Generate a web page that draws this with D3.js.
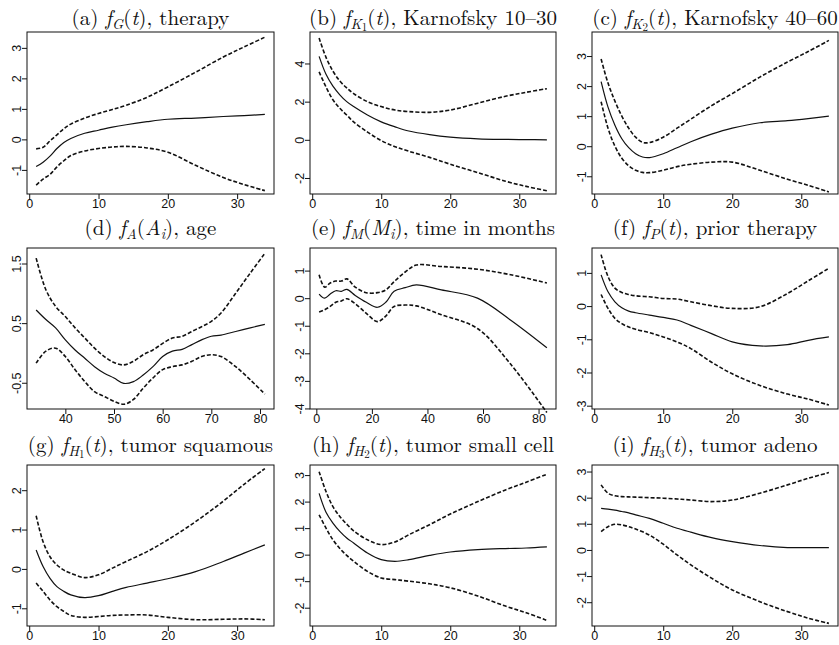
<!DOCTYPE html>
<html>
<head>
<meta charset="utf-8">
<script src="https://cdn.jsdelivr.net/npm/d3@7"></script>
<style>
  body { margin: 0; background: #fff; }
  svg { display: block; }
</style>
</head>
<body>
<div id="chart"></div>
<script>
// x grids
var tGrid = [1,2,3,4,5,6,8,10,12,14,17,20,24,28,31,34];
var tGridC = [1,2,3,4,5,6,7,8,10,12,14,17,20,24,28,31,34];
var ageGrid = [34,36,38,40,42,44,46,48,50,52,54,56,58,60,62,64,66,68,70,72,75,78,81];
var monthGrid = [1,3,5,7,9,11,14,18,22,25,28,32,36,45,58,70,83];

// (a) therapy
var estA = [-0.89,-0.75,-0.55,-0.3,-0.1,0.03,0.2,0.3,0.4,0.48,0.58,0.66,0.7,0.75,0.78,0.82];
var loA  = [-1.5,-1.3,-1.15,-0.9,-0.7,-0.53,-0.38,-0.3,-0.25,-0.23,-0.28,-0.42,-0.85,-1.25,-1.48,-1.68];
var hiA  = [-0.31,-0.26,-0.05,0.15,0.35,0.5,0.7,0.85,0.98,1.12,1.38,1.72,2.2,2.7,3.03,3.35];
// (b) Karnofsky 10-30
var estB = [4.37,3.43,2.81,2.36,2.0,1.74,1.3,0.94,0.68,0.46,0.27,0.14,0.05,0.02,0.01,0.0];
var loB  = [3.56,2.77,2.1,1.65,1.3,0.94,0.41,-0.04,-0.36,-0.6,-0.92,-1.28,-1.72,-2.17,-2.44,-2.67];
var hiB  = [5.33,4.32,3.6,3.08,2.72,2.42,2.0,1.74,1.56,1.48,1.44,1.56,1.92,2.28,2.49,2.68];
// (c) Karnofsky 40-60
var estC = [2.15,1.3,0.7,0.25,-0.05,-0.25,-0.36,-0.38,-0.25,-0.05,0.15,0.4,0.6,0.78,0.85,0.92,1.0];
var loC  = [1.48,0.6,0.0,-0.4,-0.65,-0.8,-0.87,-0.88,-0.8,-0.68,-0.6,-0.53,-0.53,-0.8,-1.1,-1.3,-1.52];
var hiC  = [2.9,2.1,1.5,1.0,0.6,0.3,0.13,0.12,0.3,0.6,0.9,1.35,1.75,2.3,2.8,3.15,3.52];
// (d) age
var estD = [0.72,0.56,0.42,0.22,0.05,-0.09,-0.23,-0.34,-0.42,-0.51,-0.48,-0.37,-0.23,-0.06,0.03,0.06,0.14,0.22,0.28,0.3,0.36,0.42,0.48];
var loD  = [-0.17,0.03,0.08,-0.06,-0.28,-0.48,-0.65,-0.73,-0.81,-0.86,-0.78,-0.59,-0.42,-0.28,-0.23,-0.2,-0.14,-0.06,-0.03,-0.06,-0.23,-0.45,-0.69];
var hiD  = [1.59,1.06,0.78,0.61,0.42,0.25,0.08,-0.06,-0.16,-0.2,-0.14,-0.03,0.05,0.16,0.25,0.28,0.36,0.44,0.53,0.67,1.0,1.34,1.67];
// (e) time in months
var estE = [0.15,0.0,0.15,0.27,0.25,0.32,0.1,-0.15,-0.33,-0.15,0.25,0.38,0.48,0.3,0.0,-0.8,-1.8];
var loE  = [-0.5,-0.42,-0.3,-0.15,-0.1,-0.02,-0.2,-0.55,-0.85,-0.65,-0.3,-0.25,-0.28,-0.6,-1.1,-2.4,-4.15];
var hiE  = [0.85,0.4,0.55,0.62,0.62,0.7,0.4,0.2,0.2,0.3,0.6,0.95,1.2,1.15,1.05,0.85,0.55];
// (f) prior therapy
var estF = [0.94,0.43,0.13,-0.05,-0.15,-0.2,-0.27,-0.34,-0.42,-0.58,-0.83,-1.08,-1.2,-1.16,-1.03,-0.93];
var loF  = [0.35,-0.07,-0.37,-0.53,-0.63,-0.7,-0.8,-0.93,-1.08,-1.28,-1.69,-2.04,-2.39,-2.65,-2.8,-2.98];
var hiF  = [1.55,0.89,0.54,0.41,0.35,0.31,0.28,0.23,0.21,0.13,0.01,-0.07,-0.02,0.38,0.76,1.14];
// (g) tumor squamous
var estG = [0.48,0.06,-0.24,-0.45,-0.57,-0.66,-0.73,-0.68,-0.57,-0.47,-0.36,-0.25,-0.07,0.19,0.4,0.61];
var loG  = [-0.36,-0.57,-0.79,-0.96,-1.08,-1.18,-1.23,-1.21,-1.18,-1.17,-1.17,-1.23,-1.29,-1.28,-1.27,-1.29];
var hiG  = [1.35,0.69,0.31,0.1,-0.03,-0.11,-0.22,-0.15,0.02,0.19,0.44,0.74,1.2,1.72,2.15,2.55];
// (h) tumor small cell
var estH = [2.31,1.6,1.19,0.88,0.63,0.44,0.06,-0.19,-0.25,-0.19,-0.03,0.1,0.19,0.23,0.25,0.29];
var loH  = [1.5,1.0,0.56,0.23,-0.03,-0.25,-0.63,-0.88,-0.94,-1.0,-1.1,-1.25,-1.56,-1.94,-2.19,-2.48];
var hiH  = [3.13,2.38,1.81,1.44,1.15,0.9,0.56,0.38,0.48,0.75,1.13,1.53,2.0,2.44,2.73,3.03];
// (i) tumor adeno
var estI = [1.59,1.56,1.52,1.47,1.42,1.34,1.21,1.02,0.83,0.68,0.47,0.32,0.17,0.09,0.09,0.09];
var loI  = [0.7,0.89,0.98,0.96,0.89,0.8,0.57,0.22,-0.19,-0.57,-1.08,-1.53,-1.98,-2.36,-2.61,-2.81];
var hiI  = [2.49,2.17,2.07,2.04,2.03,2.02,2.0,1.98,1.95,1.91,1.85,1.91,2.17,2.49,2.74,2.96];

var tTicks = [0,10,20,30];
var ageTicks = [40,50,60,70,80];
var monthTicks = [0,20,40,60,80];

var W = 839, H = 645;
var colX = [[27,274],[310,556],[592,838]];
var rowY = [[32,194],[248,409],[465,626]];
var titleY = [25,235,452];
var serif = "'Latin Modern Roman','CMU Serif','Liberation Serif','Times New Roman',serif";
var sans = "'Liberation Sans',Arial,Helvetica,sans-serif";
var ink = "#111";

var panels = [
  {lab:"(a)", sub:"G", arg:"t", desc:"therapy", x:tGrid, est:estA, lo:loA, hi:hiA, xd:[1,34], yd:[-1.79,3.52], xt:tTicks, yt:[-1,0,1,2,3]},
  {lab:"(b)", sub:"K", subsub:"1", arg:"t", desc:"Karnofsky 10\u201330", x:tGrid, est:estB, lo:loB, hi:hiB, xd:[1,34], yd:[-2.84,5.65], xt:tTicks, yt:[-2,0,2,4]},
  {lab:"(c)", sub:"K", subsub:"2", arg:"t", desc:"Karnofsky 40\u201360", x:tGridC, est:estC, lo:loC, hi:hiC, xd:[1,34], yd:[-1.59,3.8], xt:tTicks, yt:[-1,0,1,2,3]},
  {lab:"(d)", sub:"A", arg:"A", argsub:"i", desc:"age", x:ageGrid, est:estD, lo:loD, hi:hiD, xd:[34,81], yd:[-0.94,1.76], xt:ageTicks, yt:[-0.5,0.5,1.5]},
  {lab:"(e)", sub:"M", arg:"M", argsub:"i", desc:"time in months", x:monthGrid, est:estE, lo:loE, hi:hiE, xd:[1,83], yd:[-4.02,1.82], xt:monthTicks, yt:[-4,-3,-2,-1,0,1]},
  {lab:"(f)", sub:"P", arg:"t", desc:"prior therapy", x:tGrid, est:estF, lo:loF, hi:hiF, xd:[1,34], yd:[-3.1,1.75], xt:tTicks, yt:[-3,-2,-1,0,1]},
  {lab:"(g)", sub:"H", subsub:"1", arg:"t", desc:"tumor squamous", x:tGrid, est:estG, lo:loG, hi:hiG, xd:[1,34], yd:[-1.45,2.64], xt:tTicks, yt:[-1,0,1,2]},
  {lab:"(h)", sub:"H", subsub:"2", arg:"t", desc:"tumor small cell", x:tGrid, est:estH, lo:loH, hi:hiH, xd:[1,34], yd:[-2.69,3.38], xt:tTicks, yt:[-2,-1,0,1,2,3]},
  {lab:"(i)", sub:"H", subsub:"3", arg:"t", desc:"tumor adeno", x:tGrid, est:estI, lo:loI, hi:hiI, xd:[1,34], yd:[-2.91,3.25], xt:tTicks, yt:[-2,-1,0,1,2,3]}
];

var svg = d3.select("#chart").append("svg")
    .attr("width", W)
    .attr("height", H);

function drawTitle(cx, y, p){
  var t = svg.append("text")
      .attr("x", cx)
      .attr("y", y)
      .attr("text-anchor", "middle")
      .attr("font-family", serif)
      .attr("font-size", 21)
      .attr("fill", ink);
  t.append("tspan").text(p.lab + " ");
  t.append("tspan").attr("font-style", "italic").text("f");
  t.append("tspan").attr("font-style", "italic").attr("font-size", 14.5).attr("dy", 4).text(p.sub);
  var d = 4;
  if(p.subsub){
    t.append("tspan").attr("font-size", 11).attr("dy", 2).text(p.subsub);
    d += 2;
  }
  t.append("tspan").attr("dy", -d).text("(");
  t.append("tspan").attr("font-style", "italic").text(p.arg);
  if(p.argsub){
    t.append("tspan").attr("font-style", "italic").attr("font-size", 14.5).attr("dy", 4).text(p.argsub);
    t.append("tspan").attr("dy", -4).text(")");
  } else {
    t.append("tspan").text(")");
  }
  t.append("tspan").text(", " + p.desc);
}

panels.forEach(function(p, i){
  var c = i % 3, r = Math.floor(i / 3);
  var x0 = colX[c][0], x1 = colX[c][1], y0 = rowY[r][0], y1 = rowY[r][1];
  var pad = (p.xd[1] - p.xd[0]) * 0.04;

  var x = d3.scaleLinear().domain([p.xd[0] - pad, p.xd[1] + pad]).range([x0, x1]);
  var y = d3.scaleLinear().domain(p.yd).range([y1, y0]);

  drawTitle((x0 + x1) / 2, titleY[r], p);

  var xa = svg.append("g")
      .attr("transform", "translate(0," + y1 + ")")
      .call(d3.axisBottom(x).tickValues(p.xt).tickSize(5).tickPadding(0).tickFormat(d3.format("d")));
  var ya = svg.append("g")
      .attr("transform", "translate(" + x0 + ",0)")
      .call(d3.axisLeft(y).tickValues(p.yt).tickSize(5).tickFormat(function(v){ return String(v); }));

  [xa, ya].forEach(function(a){
    a.select(".domain").remove();
    a.selectAll("line").attr("stroke", ink);
    a.selectAll("text").attr("font-family", sans).attr("font-size", 12.5).attr("fill", ink);
  });
  ya.selectAll("text")
      .attr("x", null).attr("dy", null)
      .attr("text-anchor", "middle")
      .attr("transform", "translate(-6.5,0) rotate(-90)");

  svg.append("rect")
      .attr("x", x0).attr("y", y0)
      .attr("width", x1 - x0).attr("height", y1 - y0)
      .attr("fill", "none")
      .attr("stroke", ink)
      .attr("stroke-width", 1);

  var line = function(vals){
    return d3.line()
        .x(function(d, k){ return x(p.x[k]); })
        .y(function(d){ return y(d); })
        .curve(d3.curveCatmullRom.alpha(0.5))(vals);
  };

  svg.append("path").attr("d", line(p.hi)).attr("fill", "none")
      .attr("stroke", ink).attr("stroke-width", 1.6).attr("stroke-dasharray", "4,2");
  svg.append("path").attr("d", line(p.lo)).attr("fill", "none")
      .attr("stroke", ink).attr("stroke-width", 1.6).attr("stroke-dasharray", "4,2");
  svg.append("path").attr("d", line(p.est)).attr("fill", "none")
      .attr("stroke", ink).attr("stroke-width", 1.2);
});
</script>
</body>
</html>
